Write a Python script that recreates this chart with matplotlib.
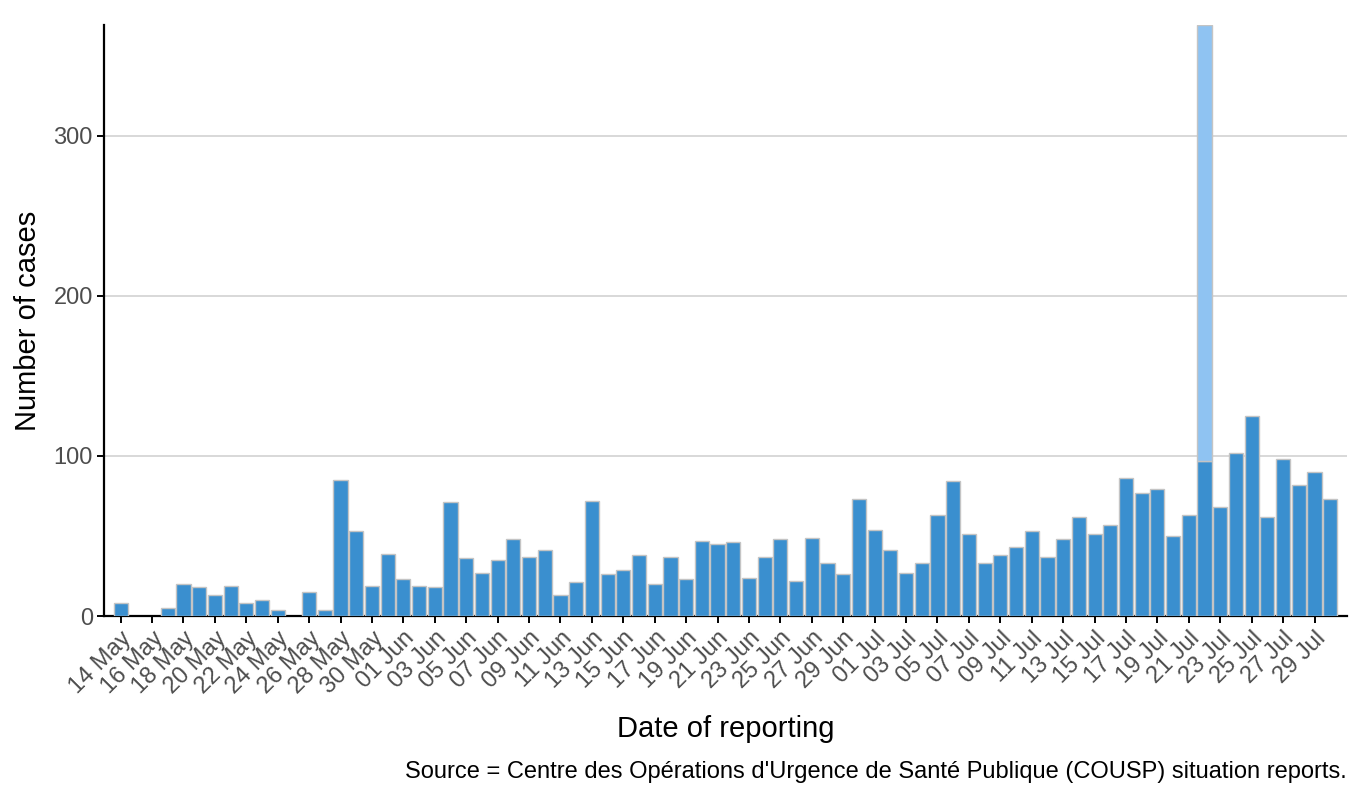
import matplotlib
matplotlib.use("Agg")
import matplotlib.pyplot as plt
import matplotlib.dates as mdates
import pandas as pd
import numpy as np

plt.rcParams['font.family'] = ['Liberation Sans', 'DejaVu Sans']

# Daily reporting dates 14 May .. 30 Jul
dates = pd.date_range("2018-05-14", "2018-07-30", freq="D")

# Cases reported (dark series)
cases = [
    8, 0, 0, 5, 20, 18, 13, 19, 8, 10,          # 14-23 May
    4, 0, 15, 4, 85, 53, 19, 39,                # 24-31 May
    23, 19, 18, 71, 36, 27, 35, 48, 37, 41,     # 1-10 Jun
    13, 21, 72, 26, 29, 38, 20, 37, 23, 47,     # 11-20 Jun
    45, 46, 24, 37, 48, 22, 49, 33, 26, 73,     # 21-30 Jun
    54, 41, 27, 33, 63, 84, 51, 33, 38, 43,     # 1-10 Jul
    53, 37, 48, 62, 51, 57, 86, 77, 79, 50,     # 11-20 Jul
    63, 97, 68, 102, 125, 62, 98, 82, 90, 73,   # 21-30 Jul
]

# Additional (light) cases stacked on top, only on 22 Jul
extra = [0] * len(cases)
extra[dates.get_loc(pd.Timestamp("2018-07-22"))] = 272

tick_dates = pd.date_range("2018-05-14", "2018-07-29", freq="2D")

dark_col = "#3a8fcf"
light_col = "#8fc3f2"
edge_col = "#c4c4c4"

fig = plt.figure(figsize=(13.66, 7.92), dpi=100)
ax = fig.add_axes([0.0761, 0.2222, 0.9099, 0.7462])

x = mdates.date2num(dates)
edges_dark = [edge_col if v > 0 else "none" for v in cases]
edges_light = [edge_col if v > 0 else "none" for v in extra]
ax.bar(x, cases, width=0.9, color=dark_col, edgecolor=edges_dark, linewidth=1.0, zorder=3)
ax.bar(x, extra, bottom=cases, width=0.9, color=light_col, edgecolor=edges_light,
       linewidth=1.0, zorder=3)

ax.set_ylim(0, 369)
ax.set_xlim(x[0] - 1.06, x[0] + 78.06)
ax.set_yticks([0, 100, 200, 300])
ax.yaxis.grid(True, color="#d6d6d6", linewidth=1.3, zorder=0)
ax.xaxis.grid(False)

ax.set_xticks(mdates.date2num(tick_dates))
ax.set_xticklabels([d.strftime("%d %b") for d in tick_dates], rotation=45,
                   ha="right", va="top", rotation_mode="anchor")

for s in ["top", "right"]:
    ax.spines[s].set_visible(False)
for s in ["left", "bottom"]:
    ax.spines[s].set_color("black")
    ax.spines[s].set_linewidth(1.6)

ax.tick_params(axis="both", colors="black", length=5, width=1.4, labelsize=17,
               labelcolor="#4d4d4d")
ax.tick_params(axis="x", pad=3)
ax.tick_params(axis="y", pad=3)

ax.set_xlabel("Date of reporting", fontsize=21)
ax.set_ylabel("Number of cases", fontsize=21)
ax.xaxis.set_label_coords(0.5, -0.167)
ax.yaxis.set_label_coords(-0.050, 0.5)

fig.text(0.986, 0.025, "Source = Centre des Opérations d'Urgence de Santé Publique (COUSP) situation reports.",
         ha="right", va="center", fontsize=17, color="black")

fig.savefig("out.png", dpi=100, facecolor="white")
